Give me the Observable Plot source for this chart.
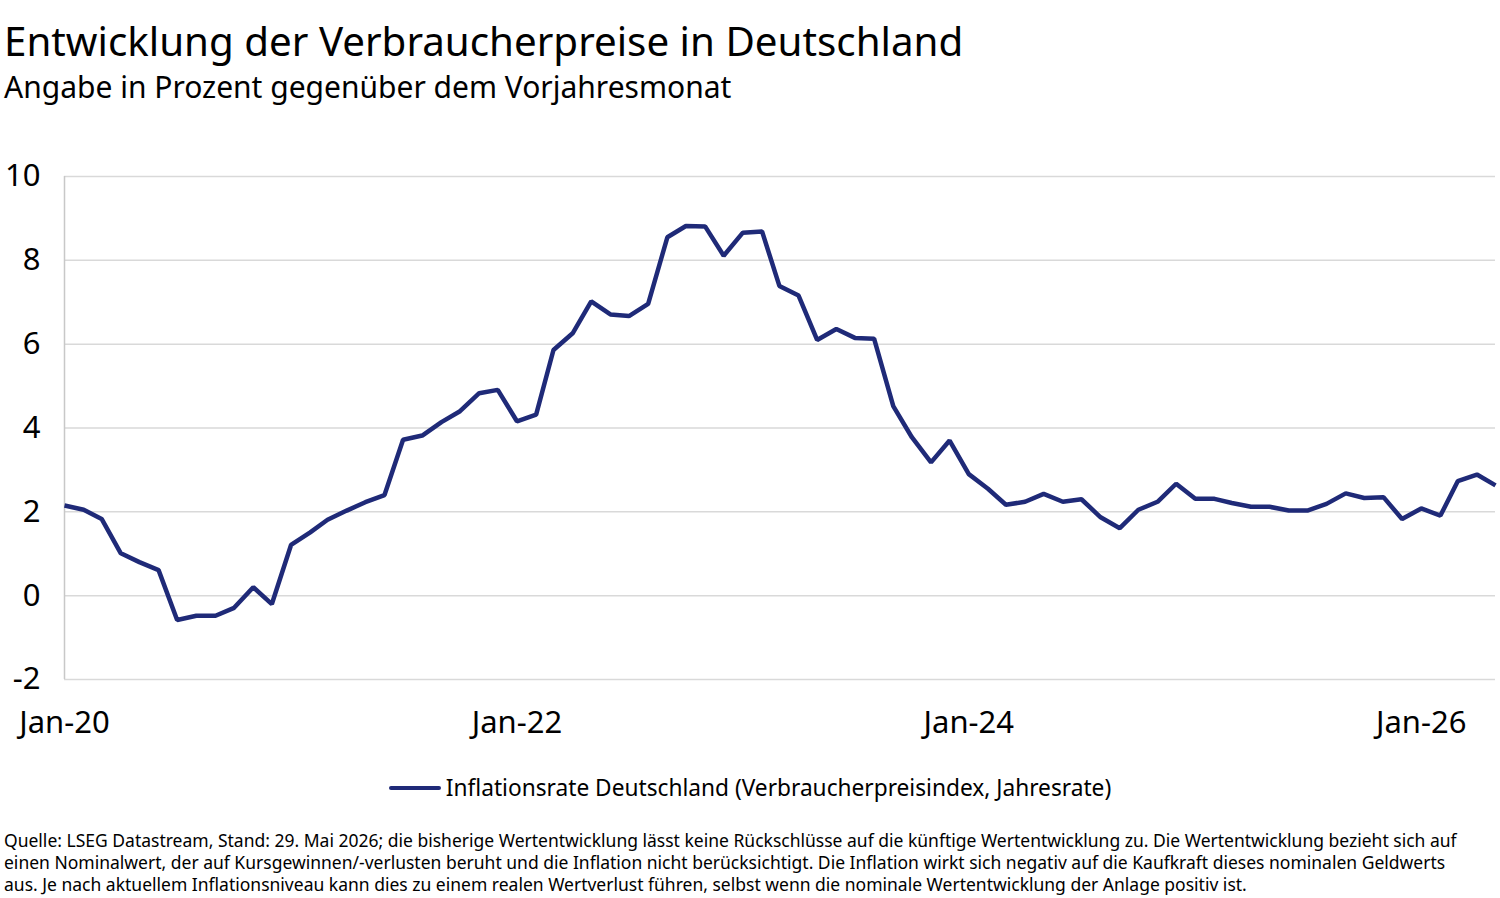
<!DOCTYPE html>
<html>
<head>
<meta charset="utf-8">
<script src="https://cdn.jsdelivr.net/npm/d3@7"></script>
<script src="https://cdn.jsdelivr.net/npm/@observablehq/plot@0.6"></script>
<style>
  html, body { margin: 0; padding: 0; background: #fff; }
  body { width: 1500px; height: 898px; position: relative; overflow: hidden; font-family: "Noto Sans", sans-serif; color: #000; }
  #title { position: absolute; left: 4px; top: 21px; font-size: 40.3px; line-height: 1; white-space: nowrap; }
  #subtitle { position: absolute; left: 4px; top: 72px; font-size: 30px; line-height: 1; white-space: nowrap; }
  #chart { position: absolute; left: 0; top: 150px; }
  #legend { position: absolute; left: 0; width: 1500px; top: 777px; text-align: center; font-size: 22.7px; line-height: 1; white-space: nowrap; }
  #legend .sw { display: inline-block; width: 52px; height: 4px; background: #1f2a78; vertical-align: middle; margin-right: 5px; position: relative; top: -2px; border-radius: 2px; }
  #note { position: absolute; left: 4px; top: 829px; font-size: 17.5px; line-height: 22px; width: 1496px; white-space: nowrap; }
</style>
</head>
<body>
<div id="title">Entwicklung der Verbraucherpreise in Deutschland</div>
<div id="subtitle">Angabe in Prozent gegenüber dem Vorjahresmonat</div>
<div id="chart"></div>
<div id="legend"><span class="sw"></span>Inflationsrate Deutschland (Verbraucherpreisindex, Jahresrate)</div>
<div id="note">Quelle: LSEG Datastream, Stand: 29. Mai 2026; die bisherige Wertentwicklung lässt keine Rückschlüsse auf die künftige Wertentwicklung zu. Die Wertentwicklung bezieht sich auf<br>einen Nominalwert, der auf Kursgewinnen/-verlusten beruht und die Inflation nicht berücksichtigt. Die Inflation wirkt sich negativ auf die Kaufkraft dieses nominalen Geldwerts<br>aus. Je nach aktuellem Inflationsniveau kann dies zu einem realen Wertverlust führen, selbst wenn die nominale Wertentwicklung der Anlage positiv ist.</div>
<script>
// Monthly series: Jan 2020 – May 2026
const firstMonth = "2020-01";
const lastMonth = "2026-05";
const inflation = [
  2.15, 2.05, 1.83, 1.01, 0.80, 0.61, -0.58, -0.48, -0.48, -0.29, 0.20, -0.20,
  1.21, 1.51, 1.81, 2.03, 2.23, 2.40, 3.72, 3.82, 4.14, 4.40, 4.83, 4.91,
  4.16, 4.32, 5.86, 6.26, 7.02, 6.71, 6.67, 6.96, 8.55, 8.82, 8.81, 8.11,
  8.66, 8.69, 7.39, 7.16, 6.10, 6.36, 6.15, 6.13, 4.52, 3.78, 3.18, 3.70,
  2.90, 2.55, 2.17, 2.24, 2.43, 2.24, 2.30, 1.87, 1.61, 2.05, 2.24, 2.67,
  2.31, 2.31, 2.21, 2.12, 2.12, 2.03, 2.03, 2.19, 2.44, 2.33, 2.35, 1.83,
  2.08, 1.91, 2.73, 2.89, 2.63
];
const yTicks = [-2, 0, 2, 4, 6, 8, 10];
const xTickLabels = ["Jan-20", "Jan-22", "Jan-24", "Jan-26"];
const xTickDates = ["2020-01", "2022-01", "2024-01", "2026-01"];
const seriesName = "Inflationsrate Deutschland (Verbraucherpreisindex, Jahresrate)";

const parse = d3.utcParse("%Y-%m");
const start = parse(firstMonth), end = parse(lastMonth);
const months = d3.utcMonth.range(start, d3.utcMonth.offset(end, 1));
const data = months.map((d, i) => ({date: d, value: inflation[i]}));
const xTicks = xTickDates.map(parse);
const xFmt = (d) => xTickLabels[xTicks.findIndex(t => +t === +d)];
const yFmt = (d) => String(d); // plain hyphen for negatives

const chart = Plot.plot({
  width: 1500,
  height: 610,
  marginTop: 26,
  marginBottom: 81,
  marginLeft: 64,
  marginRight: 5,
  style: {fontFamily: "Noto Sans, sans-serif", fontSize: "31px", color: "#000", background: "#fff"},
  x: {type: "utc", domain: [start, end], label: null},
  y: {domain: [-2, 10], label: null},
  marks: [
    Plot.ruleY(yTicks, {stroke: "#d9d9d9", strokeWidth: 1.5}),
    Plot.ruleX([start], {stroke: "#c8c8c8", strokeWidth: 1.5}),
    Plot.axisY({ticks: yTicks, tickFormat: yFmt, tickSize: 0, tickPadding: 24, fontSize: 31, label: null}),
    Plot.axisX({ticks: xTicks, tickFormat: xFmt, tickSize: 0, tickPadding: 31, fontSize: 31, label: null}),
    Plot.line(data, {x: "date", y: "value", stroke: "#1f2a78", strokeWidth: 4.5, strokeLinejoin: "miter", strokeLinecap: "butt"})
  ]
});
document.getElementById("chart").appendChild(chart);
</script>
</body>
</html>
